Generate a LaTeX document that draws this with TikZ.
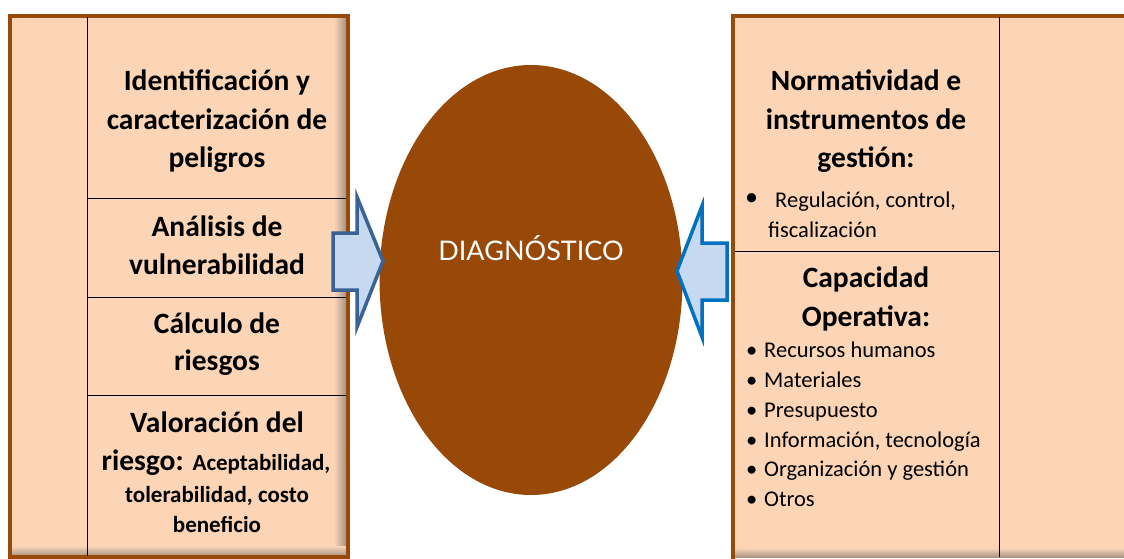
\documentclass[tikz,border=0pt]{standalone}
\usepackage{fontspec}
\setmainfont{Carlito}
\newfontfamily\diagfont{Lato}
\usetikzlibrary{shapes.geometric}
\definecolor{peach}{HTML}{FBD5B5}
\definecolor{brownb}{HTML}{9A4A08}
\definecolor{ellb}{HTML}{984807}
\definecolor{arrfill}{HTML}{C6D9F1}
\definecolor{arrL}{HTML}{3A6294}
\definecolor{arrR}{HTML}{0070C0}
\definecolor{shad}{HTML}{A89484}
\tikzset{
  sep/.style={draw=black, line width=0.9pt},
  big/.style={font=\fontsize{29.5}{36}\selectfont\bfseries, inner sep=0pt, anchor=base},
  small/.style={font=\fontsize{22.5}{30}\selectfont, inner sep=0pt, anchor=base west},
  mid/.style={font=\fontsize{23}{30}\selectfont\bfseries, inner sep=0pt, anchor=base},
  blockarrow/.style={fill=arrfill, line width=3.5pt, line join=miter}
}
\begin{document}
\begin{tikzpicture}[x=1pt,y=-1pt]
\useasboundingbox (0,0) rectangle (1124,559);
% left panel
\fill[peach] (10,16) rectangle (348,557);
\shade[left color=peach, right color=shad] (334,16) rectangle (346,557);
\shade[top color=peach, bottom color=shad] (12,546) rectangle (346,556);
\draw[brownb, line width=3.5pt] (10,16) rectangle (348,557);
\coordinate (lv1) at (87,17);
\coordinate (lv2) at (87,556);
\draw[sep] (lv1) -- (lv2);
\coordinate (h1a) at (87,198); \coordinate (h1b) at (346,198);
\coordinate (h2a) at (87,297); \coordinate (h2b) at (346,297);
\coordinate (h3a) at (87,395); \coordinate (h3b) at (346,395);
\draw[sep] (h1a) -- (h1b);
\draw[sep] (h2a) -- (h2b);
\draw[sep] (h3a) -- (h3b);
\node[big] (t1a) at (217,91) {Identificación y};
\node[big] (t1b) at (217,129) {caracterización de};
\node[big] (t1c) at (217,167) {peligros};
\node[big] (t2a) at (217,236) {Análisis de};
\node[big] (t2b) at (217,274) {vulnerabilidad};
\node[big] (t3a) at (217,333) {Cálculo de};
\node[big] (t3b) at (217,370) {riesgos};
\node[big] (t4a) at (217,432) {Valoración del};
\node[inner sep=0pt, anchor=base] (t4b) at (216,470) {\fontsize{29.5}{36}\selectfont\bfseries riesgo: \fontsize{23}{30}\selectfont Aceptabilidad,};
\node[mid] (t4c) at (217,502) {tolerabilidad, costo};
\node[mid] (t4d) at (217,532) {beneficio};
% right panel
\fill[peach] (733,16) rectangle (1130,557);
\shade[top color=peach, bottom color=shad] (735,548) rectangle (1130,557);
\draw[brownb, line width=3.5pt] (1130,16) -- (733,16) -- (733,559);
\coordinate (rv1) at (999,17); \coordinate (rv2) at (999,557);
\draw[sep] (rv1) -- (rv2);
\coordinate (rh1) at (735,251); \coordinate (rh2) at (999,251);
\draw[sep] (rh1) -- (rh2);
\node[big] (n1a) at (866,91) {Normatividad e};
\node[big] (n1b) at (866,129) {instrumentos de};
\node[big] (n1c) at (866,167) {gestión:};
\node[small, font=\fontsize{26}{30}\selectfont] (b0) at (745,205) {•};
\node[small] (n2a) at (775,207) {Regulación, control,};
\node[small] (n2b) at (768,237) {fiscalización};
\node[big] (c1a) at (866,287) {Capacidad};
\node[big] (c1b) at (866,326) {Operativa:};
\foreach \t/\yy [count=\i] in {Recursos humanos/357, Materiales/387, Presupuesto/417, {Información, tecnología}/447, Organización y gestión/476, Otros/506}{
  \node[small] (bb\i) at (746,\yy) {•};
  \node[small] (ci\i) at (764,\yy) {\t};
}
% ellipse
\node[ellipse, fill=ellb, minimum width=303pt, minimum height=430pt, inner sep=0pt] (diag) at (531,280) {};
\node[text=white, font=\diagfont\fontsize{27}{30}\selectfont, inner sep=0pt] (dt) at (531,248) {DIAGNÓSTICO};
% arrows
\draw[blockarrow, draw=arrL] (333,233) -- (357,233) -- (357,197) -- (383,261) -- (357,327) -- (357,290) -- (333,290) -- cycle;
\draw[blockarrow, draw=arrR] (727,243) -- (702,243) -- (702,206) -- (677,271) -- (702,337) -- (702,300) -- (727,300) -- cycle;
\end{tikzpicture}
\end{document}
